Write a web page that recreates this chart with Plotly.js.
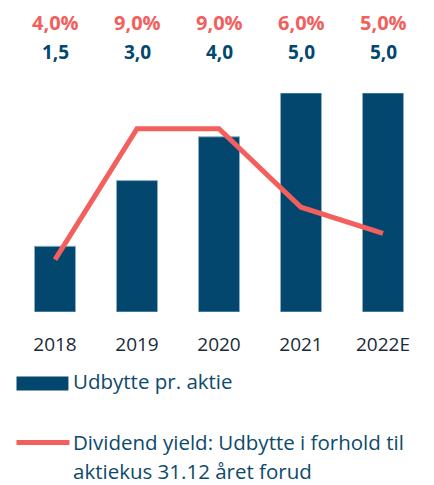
<!DOCTYPE html>
<html>
<head>
<meta charset="utf-8">
<script src="https://cdn.plot.ly/plotly-3.0.1.min.js"></script>
<style>html,body{margin:0;padding:0;background:#fff;}#chart{width:434px;height:485px;}</style>
</head>
<body>
<div id="chart"></div>
<script>
const years = ['2018', '2019', '2020', '2021', '2022E'];
const dividend = [1.5, 3.0, 4.0, 5.0, 5.0];
const yieldPct = [4.0, 9.0, 9.0, 6.0, 5.0];
const dividendLabels = ['1,5', '3,0', '4,0', '5,0', '5,0'];
const yieldLabels = ['4,0%', '9,0%', '9,0%', '6,0%', '5,0%'];
const barName = 'Udbytte pr. aktie';
const lineNameLines = ['Dividend yield: Udbytte i forhold til', 'aktiekus 31.12 året forud'];

const W = 434, H = 485;
const M = {l: 13.5, r: 10, t: 93.3, b: 172.5};
const plotW = W - M.l - M.r, plotH = H - M.t - M.b;
const px = x => (x - M.l) / plotW;
const py = y => (H - M.b - y) / plotH;

const barColor = '#03476F';
const lineColor = '#F25F5C';
const font = 'Open Sans, Noto Sans, sans-serif';

const traces = [
  {type: 'bar', x: years, y: dividend, name: barName,
   marker: {color: barColor, line: {color: 'rgba(140,175,200,0.9)', width: 1}},
   hoverinfo: 'skip', showlegend: false},
  {type: 'scatter', mode: 'lines', x: years, y: yieldPct, yaxis: 'y2',
   name: lineNameLines.join(' '),
   line: {color: lineColor, width: 5, shape: 'linear'},
   hoverinfo: 'skip', showlegend: false}
];

const annotations = [];
years.forEach((yr, i) => {
  annotations.push({x: i, xref: 'x', y: py(22.5), yref: 'paper', text: '<b>' + yieldLabels[i] + '</b>',
    showarrow: false, xanchor: 'center', yanchor: 'middle', font: {family: font, size: 20, color: lineColor}});
  annotations.push({x: i, xref: 'x', y: py(52.5), yref: 'paper', text: '<b>' + dividendLabels[i] + '</b>',
    showarrow: false, xanchor: 'center', yanchor: 'middle', font: {family: font, size: 19, color: barColor}});
});
const legFont = {family: font, size: 20.5, color: '#0D4A6B'};
annotations.push({x: px(72), xref: 'paper', y: py(382), yref: 'paper', text: barName, borderpad: 0,
  showarrow: false, xanchor: 'left', yanchor: 'middle', font: legFont});
annotations.push({x: px(72), xref: 'paper', y: py(443), yref: 'paper', text: lineNameLines[0], borderpad: 0,
  showarrow: false, xanchor: 'left', yanchor: 'middle', font: legFont});
annotations.push({x: px(72), xref: 'paper', y: py(471.5), yref: 'paper', text: lineNameLines[1], borderpad: 0,
  showarrow: false, xanchor: 'left', yanchor: 'middle', font: legFont});

const shapes = [
  {type: 'rect', xref: 'paper', yref: 'paper', x0: px(16), x1: px(68), y0: py(391), y1: py(377),
   fillcolor: barColor, line: {width: 0}},
  {type: 'line', xref: 'paper', yref: 'paper', x0: px(16), x1: px(69), y0: py(443), y1: py(443),
   line: {color: lineColor, width: 5}}
];

const layout = {
  width: W, height: H,
  margin: M,
  paper_bgcolor: '#fff', plot_bgcolor: '#fff',
  bargap: 0.5,
  showlegend: false,
  xaxis: {type: 'category', range: [-0.5, 4.5], showgrid: false, zeroline: false, showline: false, ticks: '',
          tickfont: {family: font, size: 19, color: '#1A2A38'}, ticklabelstandoff: 19, fixedrange: true},
  yaxis: {range: [0, 5], visible: false, showgrid: false, zeroline: false, fixedrange: true},
  yaxis2: {range: [2, 10.36], overlaying: 'y', visible: false, showgrid: false, zeroline: false, fixedrange: true},
  annotations: annotations,
  shapes: shapes
};

Plotly.newPlot('chart', traces, layout, {displayModeBar: false, staticPlot: true});
</script>
</body>
</html>
